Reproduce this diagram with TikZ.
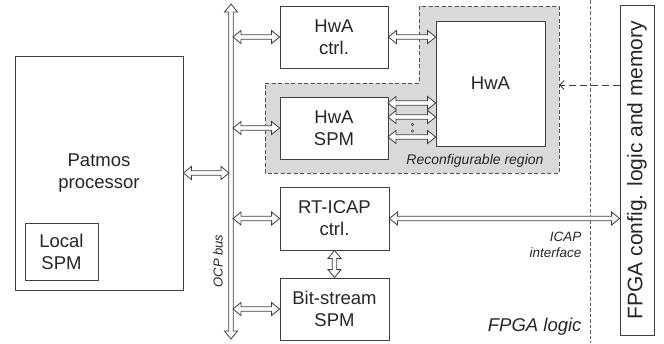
\documentclass[tikz,border=0pt]{standalone}
\usepackage{fontspec}
\setmainfont{Liberation Sans}
\usetikzlibrary{calc,arrows.meta}
\definecolor{linec}{HTML}{404040}
\definecolor{txtc}{HTML}{262626}
\definecolor{regfill}{HTML}{D9D9D9}
\def\dblL{8pt}
\def\dblW{6.5pt}
\def\dblS{2.3pt}
\tikzset{
  every node/.style={font=\fontsize{18.5}{22}\selectfont, text=txtc},
  box/.style={draw=linec, fill=white, line width=0.8pt, align=center, inner sep=0pt},
  dbl/.style={draw=linec, fill=white, line width=0.8pt, line join=miter,
    to path={
      -- ($(\tikztostart)!\dblL!(\tikztotarget)!\dblW!90:(\tikztotarget)$)
      -- ($(\tikztostart)!\dblL!(\tikztotarget)!\dblS!90:(\tikztotarget)$)
      -- ($(\tikztotarget)!\dblL!(\tikztostart)!\dblS!-90:(\tikztostart)$)
      -- ($(\tikztotarget)!\dblL!(\tikztostart)!\dblW!-90:(\tikztostart)$)
      -- (\tikztotarget)
      -- ($(\tikztotarget)!\dblL!(\tikztostart)!\dblW!90:(\tikztostart)$)
      -- ($(\tikztotarget)!\dblL!(\tikztostart)!\dblS!90:(\tikztostart)$)
      -- ($(\tikztostart)!\dblL!(\tikztotarget)!\dblS!-90:(\tikztotarget)$)
      -- ($(\tikztostart)!\dblL!(\tikztotarget)!\dblW!-90:(\tikztotarget)$)
      -- cycle}},
  smalllabel/.style={font=\fontsize{13.5}{16}\selectfont\itshape},
  regionline/.style={draw=linec!90, line width=0.7pt, dash pattern=on 4pt off 2.5pt},
}
\begin{document}
\begin{tikzpicture}[x=1pt, y=-1pt]
\useasboundingbox (0,0) rectangle (664,343);

% reconfigurable region
\draw[regionline, fill=regfill] (265,83) -- (419,83) -- (419,6) -- (559,6) -- (559,173) -- (265,173) -- cycle;
\node[smalllabel, font=\fontsize{14}{16}\selectfont\itshape, anchor=east] (reglabel) at (547,161) {Reconfigurable region};
\coordinate (regE) at (559,85);

% FPGA logic boundary
\draw[draw=linec!80, line width=0.6pt, dash pattern=on 3.5pt off 2pt] (590,0) -- (590,343);

% boxes
\node[box, minimum width=168pt, minimum height=234pt] (patmos) at (99,173) {Patmos\\processor};
\node[box, minimum width=73pt, minimum height=57pt] (lspm) at (61.5,251.5) {Local\\SPM};
\node[box, minimum width=108pt, minimum height=62pt] (ctrl) at (334,37) {HwA\\ctrl.};
\node[box, minimum width=108pt, minimum height=62pt] (spm) at (334,128) {HwA\\SPM};
\node[box, minimum width=109pt, minimum height=125pt] (hwa) at (490.5,83.5) {HwA};
\node[box, minimum width=109pt, minimum height=63pt] (rticap) at (334.5,218.5) {RT-ICAP\\ctrl.};
\node[box, minimum width=109pt, minimum height=62pt] (bitspm) at (334.5,309) {Bit-stream\\SPM};
\node[box, minimum width=34pt, minimum height=330pt] (cfg) at (637,170) {};
\node[rotate=90, font=\fontsize{21}{24}\selectfont] (cfgtext) at (cfg.center) {FPGA config. logic and memory};

% bus
\coordinate (bustop) at (231,4);
\coordinate (busbot) at (231,339);
\coordinate (busL) at (229,0);
\coordinate (busR) at (233,0);
\draw[dbl] (bustop) to (busbot);
\node[smalllabel, font=\fontsize{13}{15}\selectfont\itshape, rotate=90] (ocp) at (218,261) {OCP bus};

% connectors
\draw[dbl] (patmos.east) to (busL |- patmos.east);
\draw[dbl] (busR |- ctrl.west) to (ctrl.west);
\draw[dbl] (busR |- spm.west) to (spm.west);
\draw[dbl] (busR |- rticap.west) to (rticap.west);
\draw[dbl] (busR |- bitspm.west) to (bitspm.west);
\draw[dbl] (ctrl.east) to (ctrl.east -| hwa.west);
\coordinate (s1) at (388,103);
\coordinate (s2) at (388,117);
\coordinate (s3) at (388,137);
\draw[dbl] (s1) to (s1 -| hwa.west);
\draw[dbl] (s2) to (s2 -| hwa.west);
\draw[dbl] (s3) to (s3 -| hwa.west);
\draw[linec, line width=0.6pt] (412.5,124.5) circle (1.2pt) (412.5,131) circle (1.2pt);
\draw[dbl] (rticap.east) to (rticap.east -| cfg.west);
\draw[dbl] (rticap.south) to (bitspm.north);
\draw[draw=linec, line width=0.9pt, dash pattern=on 7pt off 4pt, -{Straight Barb[length=4.5pt,width=9pt]}] (cfg.west |- regE) -- (regE);

% labels
\node[smalllabel, align=right, anchor=east] (icap) at (585,245) {ICAP\\interface};
\node[font=\fontsize{18.5}{22}\selectfont\itshape, anchor=east] (fpgalogic) at (585,327) {FPGA logic};
\end{tikzpicture}
\end{document}
